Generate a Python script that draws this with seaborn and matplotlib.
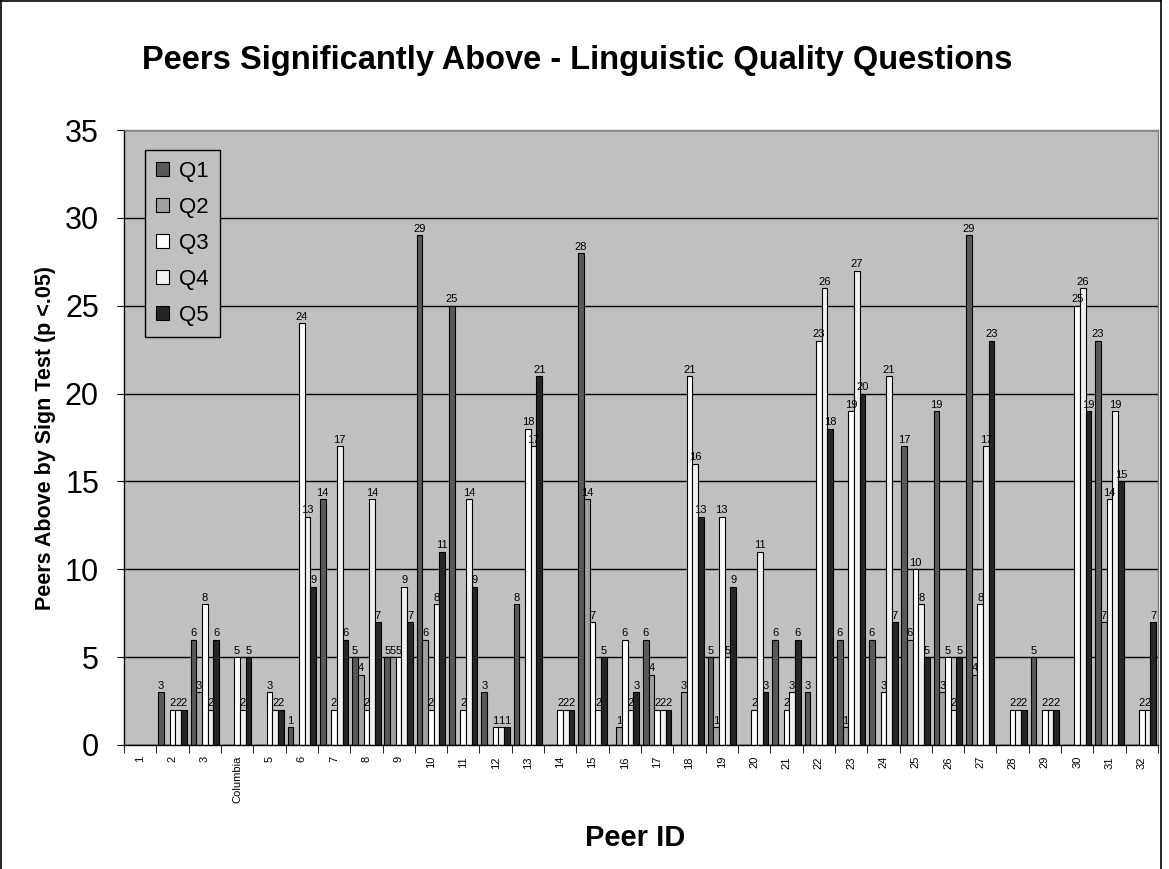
import matplotlib
matplotlib.use('Agg')
import matplotlib.pyplot as plt
import seaborn as sns
import pandas as pd
import numpy as np
from matplotlib.lines import Line2D

categories = ['1', '2', '3', 'Columbia'] + [str(i) for i in range(5, 33)]
series_names = ['Q1', 'Q2', 'Q3', 'Q4', 'Q5']
q1 = [0, 3, 6, 0, 0, 1, 14, 5, 5, 29, 25, 3, 8, 0, 28, 0, 6, 0, 5, 0, 6, 3, 6, 6, 17, 19, 29, 0, 5, 0, 23, 0]
q2 = [0, 0, 3, 0, 0, 0, 0, 4, 5, 6, 0, 0, 0, 0, 14, 1, 4, 3, 1, 0, 0, 0, 1, 0, 6, 3, 4, 0, 0, 0, 7, 0]
q3 = [0, 2, 8, 5, 3, 24, 2, 2, 5, 2, 2, 1, 18, 2, 7, 6, 2, 21, 13, 2, 2, 23, 19, 3, 10, 5, 8, 2, 2, 25, 14, 2]
q4 = [0, 2, 2, 2, 2, 13, 17, 14, 9, 8, 14, 1, 17, 2, 2, 2, 2, 16, 5, 11, 3, 26, 27, 21, 8, 2, 17, 2, 2, 26, 19, 2]
q5 = [0, 2, 6, 5, 2, 9, 6, 7, 7, 11, 9, 1, 21, 2, 5, 3, 2, 13, 9, 3, 6, 18, 20, 7, 5, 5, 23, 2, 2, 19, 15, 7]
colors = ['#595959', '#a0a0a0', '#ffffff', '#f0f0f0', '#262626']

rows = []
for name, vals in zip(series_names, [q1, q2, q3, q4, q5]):
    for c, v in zip(categories, vals):
        rows.append({'Peer': c, 'Value': v, 'Series': name})
df = pd.DataFrame(rows)

plt.rcParams['font.family'] = ['Liberation Sans', 'DejaVu Sans']

fig = plt.figure(figsize=(11.69, 8.69), dpi=100)
fig.patch.set_facecolor('white')
ax = fig.add_axes([124 / 1169, 1 - 745 / 869, 1034 / 1169, 615 / 869])
ax.set_facecolor('#c0c0c0')

sns.barplot(data=df, x='Peer', y='Value', hue='Series', order=categories,
            hue_order=series_names, palette=colors, saturation=1,
            edgecolor='black', linewidth=0.8, width=0.88, errorbar=None, ax=ax)

for cont in ax.containers:
    labels = [f'{int(v)}' if v > 0 else '' for v in cont.datavalues]
    ax.bar_label(cont, labels=labels, fontsize=8, padding=1)

ax.set_ylim(0, 35)
ax.set_xlim(-0.5, len(categories) - 0.5)
ax.set_yticks(np.arange(0, 36, 5))
ax.tick_params(axis='y', labelsize=22, length=5, color='black', pad=13)
ax.set_xticks(np.arange(-0.5, len(categories), 1), minor=True)
ax.tick_params(axis='x', which='minor', length=6, color='black', direction='out')
ax.tick_params(axis='x', which='major', length=0, labelsize=8, labelrotation=90, pad=8)
ax.yaxis.grid(True, color='black', linewidth=1)
ax.xaxis.grid(False)
ax.set_axisbelow(True)
for s in ['left', 'bottom']:
    ax.spines[s].set_color('black')
    ax.spines[s].set_linewidth(1)
for s in ['top', 'right']:
    ax.spines[s].set_color('#808080')
    ax.spines[s].set_linewidth(1)

ax.set_xlabel('')
ax.set_ylabel('Peers Above by Sign Test (p <.05)', fontsize=15.5, fontweight='bold')
ax.yaxis.set_label_coords(-0.066, 0.5)

handles, labels = ax.get_legend_handles_labels()
leg = ax.legend(handles, labels, loc='upper left', bbox_to_anchor=(0.02, 0.968),
                borderaxespad=0, fontsize=16, frameon=True, fancybox=False,
                edgecolor='black', facecolor='#c0c0c0', framealpha=1,
                handlelength=0.6, handleheight=0.6, handletextpad=0.45,
                labelspacing=0.68, borderpad=0.5)
leg.get_frame().set_linewidth(1)

fig.text(0.494, 1 - 60 / 869, 'Peers Significantly Above - Linguistic Quality Questions',
         ha='center', va='center', fontsize=23.5, fontweight='bold')
fig.text(0.543, 1 - 838 / 869, 'Peer ID', ha='center', va='center', fontsize=21, fontweight='bold')

for xs, ys in [([0.0008, 0.0008], [0, 1]), ([0, 0.9935], [0.9988, 0.9988]), ([0.9935, 0.9935], [0, 1])]:
    fig.add_artist(Line2D(xs, ys, color='black', linewidth=1.2, transform=fig.transFigure))

fig.savefig('out.png', dpi=100)
